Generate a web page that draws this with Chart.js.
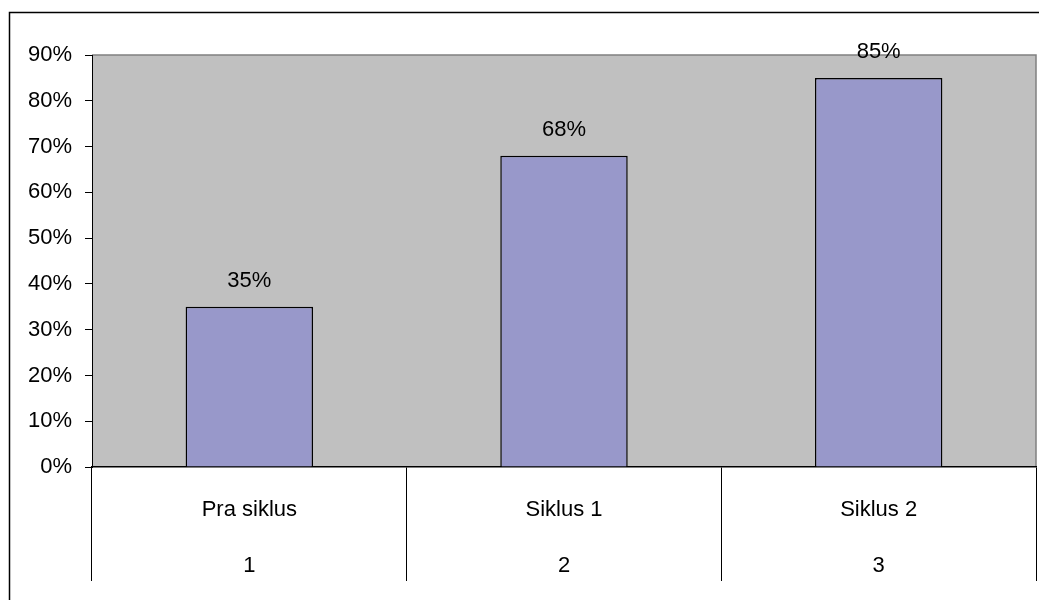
<!DOCTYPE html>
<html>
<head>
<meta charset="utf-8">
<script src="https://cdn.jsdelivr.net/npm/chart.js@4"></script>
<style>
  html, body { margin: 0; padding: 0; background: #fff; }
  #wrap { position: relative; width: 1039px; height: 600px; }
</style>
</head>
<body>
<div id="wrap"><canvas id="chart" width="1039" height="600"></canvas></div>
<script>
// data
const categories = ['Pra siklus', 'Siklus 1', 'Siklus 2'];
const cycleNumbers = ['1', '2', '3'];
const scores = [35, 68, 85];
const yTicks = [0, 10, 20, 30, 40, 50, 60, 70, 80, 90];

const fontFamily = "'Liberation Sans', Arial, sans-serif";

// grey plot area, frame lines and outer border
const backdrop = {
    id: 'backdrop',
    beforeDraw(chart) {
        const { ctx, chartArea: a } = chart;
        ctx.save();
        ctx.fillStyle = '#C0C0C0';
        ctx.fillRect(a.left, a.top, a.right - a.left, a.bottom - a.top);
        ctx.strokeStyle = '#808080';
        ctx.lineWidth = 1.5;
        ctx.beginPath();
        ctx.moveTo(a.left, a.top);
        ctx.lineTo(a.right, a.top);
        ctx.lineTo(a.right, a.bottom);
        ctx.stroke();
        // outer chart border
        ctx.strokeStyle = '#000';
        ctx.lineWidth = 1.5;
        ctx.strokeRect(9.5, 12.5, 1100, 700);
        ctx.restore();
    }
};

// value labels above bars
const valueLabels = {
    id: 'valueLabels',
    afterDatasetsDraw(chart) {
        const { ctx } = chart;
        const meta = chart.getDatasetMeta(0);
        ctx.save();
        ctx.fillStyle = '#000';
        ctx.font = '22px ' + fontFamily;
        ctx.textAlign = 'center';
        ctx.textBaseline = 'middle';
        meta.data.forEach((bar, i) => {
            ctx.fillText(scores[i] + '%', bar.x, bar.y - 26);
        });
        ctx.restore();
    }
};

new Chart(document.getElementById('chart'), {
    type: 'bar',
    data: {
        labels: categories.map((c, i) => [c, cycleNumbers[i]]),
        datasets: [{
            data: scores,
            backgroundColor: '#9898CA',
            borderColor: '#000',
            borderWidth: 1.5,
            barPercentage: 0.405,
            categoryPercentage: 1
        }]
    },
    options: {
        responsive: false,
        animation: false,
        layout: { padding: { top: 55, right: 3, left: 0, bottom: 0 } },
        plugins: {
            legend: { display: false },
            tooltip: { enabled: false }
        },
        scales: {
            x: {
                afterFit(scale) { scale.height = 133; },
                grid: {
                    offset: true,
                    drawOnChartArea: false,
                    drawTicks: true,
                    tickLength: 114,
                    color: '#000',
                    lineWidth: 1
                },
                border: { color: '#000', width: 1.5 },
                ticks: {
                    color: '#000',
                    padding: -99,
                    font: { family: fontFamily, size: 22, lineHeight: 2.55 }
                }
            },
            y: {
                min: 0,
                max: 90,
                afterFit(scale) { scale.width = 92; },
                afterBuildTicks(scale) {
                    scale.ticks = yTicks.map(v => ({ value: v }));
                },
                grid: {
                    drawOnChartArea: false,
                    drawTicks: true,
                    tickLength: 7,
                    color: '#000'
                },
                border: { color: '#000', width: 1 },
                ticks: {
                    color: '#000',
                    padding: 13,
                    font: { family: fontFamily, size: 22 },
                    callback: v => v + '%'
                }
            }
        }
    },
    plugins: [backdrop, valueLabels]
});
</script>
</body>
</html>
